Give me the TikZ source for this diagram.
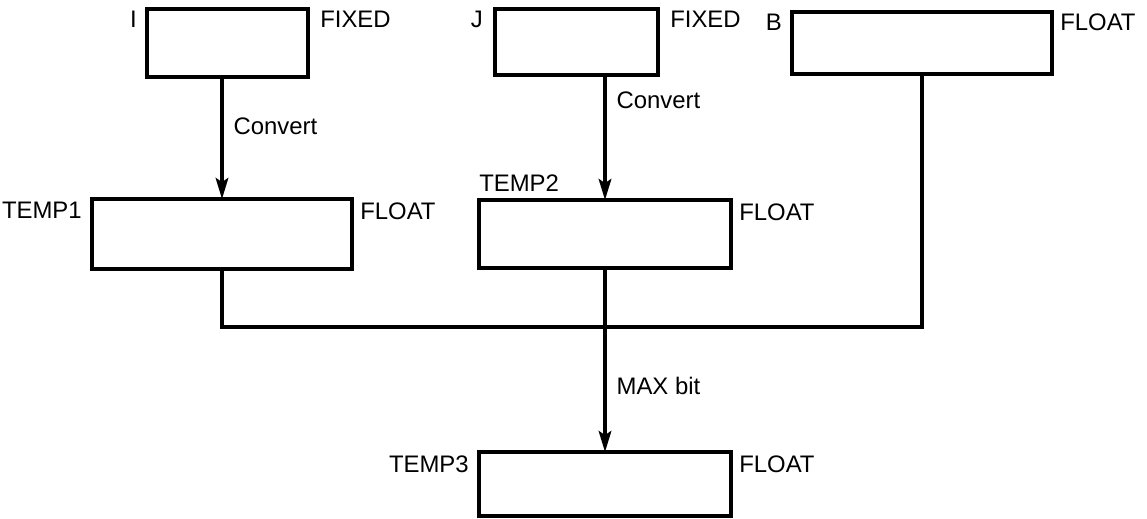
\documentclass[tikz,border=0pt]{standalone}
\usepackage{fontspec}
\setmainfont{Liberation Sans}
\usepackage{tikz}
\usetikzlibrary{arrows.meta,positioning,calc}
\tikzset{
  regbox/.style={draw, rectangle, line width=2.3pt, inner sep=0pt, outer sep=0pt},
  reglabel/.style={font=\fontsize{17}{20}\selectfont, inner sep=0pt},
  flowarrow/.style={-{Stealth[length=15pt,width=9pt,inset=3pt]}, line width=2.3pt},
  busline/.style={line width=2.3pt},
  edgelabel/.style={font=\fontsize{17}{20}\selectfont, inner sep=0pt, right=0.25cm},
}
\begin{document}
\begin{tikzpicture}
  \useasboundingbox (0,0) rectangle (28.675,-12.95);

  % source variables
  \node[regbox, minimum width=4.025cm, minimum height=1.7cm] (ibox) at (5.6875,-1.075) {};
  \node[regbox, minimum width=4.075cm, minimum height=1.65cm] (jbox) at (14.4125,-1.05) {};
  \node[regbox, minimum width=6.5cm, minimum height=1.55cm] (bbox) at (23.05,-1.075) {};

  % temporaries
  \node[regbox, minimum width=6.5cm, minimum height=1.75cm] (temp1) at (5.55,-5.85) {};
  \node[regbox, minimum width=6.3cm, minimum height=1.7cm] (temp2) at (15.125,-5.85) {};
  \node[regbox, minimum width=6.3cm, minimum height=1.6cm] (temp3) at (15.125,-12.1) {};

  % names and types
  \node[reglabel, anchor=north east] (ilbl) at ([xshift=-0.25cm,yshift=-0.05cm]ibox.north west) {I};
  \node[reglabel, anchor=north west] (ityp) at ([xshift=0.3cm,yshift=-0.05cm]ibox.north east) {FIXED};
  \node[reglabel, anchor=north east] (jlbl) at ([xshift=-0.3cm,yshift=-0.05cm]jbox.north west) {J};
  \node[reglabel, anchor=north west] (jtyp) at ([xshift=0.3cm,yshift=-0.05cm]jbox.north east) {FIXED};
  \node[reglabel, anchor=north east] (blbl) at ([xshift=-0.25cm,yshift=-0.05cm]bbox.north west) {B};
  \node[reglabel, anchor=north west] (btyp) at ([xshift=0.2cm,yshift=-0.05cm]bbox.north east) {FLOAT};
  \node[reglabel, anchor=north east] (t1lbl) at ([xshift=-0.25cm,yshift=-0.08cm]temp1.north west) {TEMP1};
  \node[reglabel, anchor=north west] (t1typ) at ([xshift=0.2cm,yshift=-0.08cm]temp1.north east) {FLOAT};
  \node[reglabel, anchor=south west] (t2lbl) at ([yshift=0.2cm]temp2.north west) {TEMP2};
  \node[reglabel, anchor=north west] (t2typ) at ([xshift=0.2cm,yshift=-0.08cm]temp2.north east) {FLOAT};
  \node[reglabel, anchor=north east] (t3lbl) at ([xshift=-0.25cm,yshift=-0.1cm]temp3.north west) {TEMP3};
  \node[reglabel, anchor=north west] (t3typ) at ([xshift=0.2cm,yshift=-0.1cm]temp3.north east) {FLOAT};

  \coordinate (join) at (15.125,-8.175);

  \draw[flowarrow] (ibox.south -| temp1.north) -- (temp1.north)
    node[edgelabel, pos=0.4] {Convert};
  \draw[flowarrow] (jbox.south -| temp2.north) -- (temp2.north)
    node[edgelabel, pos=0.2] {Convert};
  \draw[busline] (temp1.south) |- (join) -| (bbox.south);
  \draw[flowarrow] (temp2.south) -- (temp3.north)
    node[edgelabel, pos=0.64] {MAX bit};
\end{tikzpicture}
\end{document}
